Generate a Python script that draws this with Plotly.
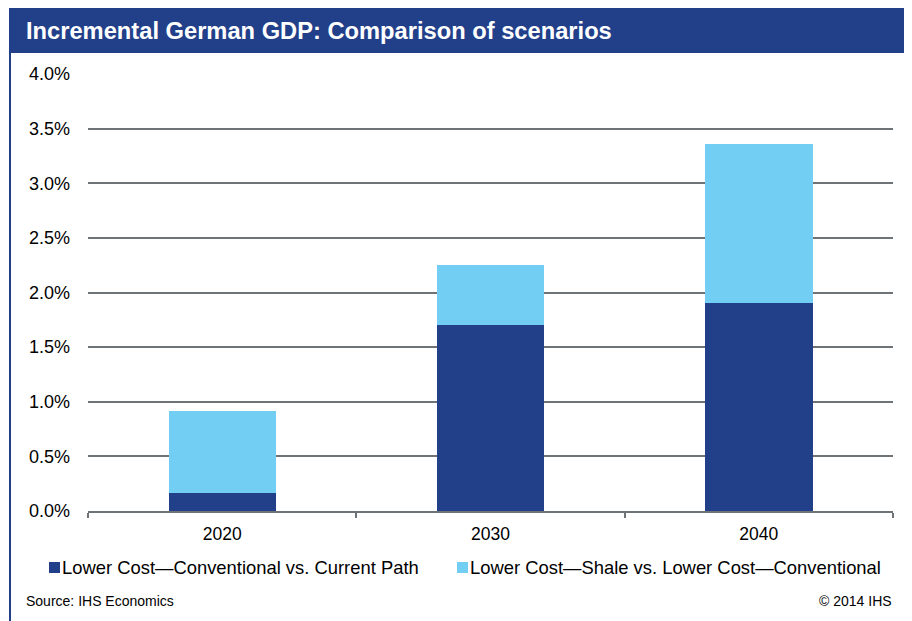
import plotly.graph_objects as go

years = ["2020", "2030", "2040"]
conventional = [0.165, 1.70, 1.90]          # Lower Cost—Conventional vs. Current Path (%)
shale = [0.75, 0.55, 1.46]                  # Lower Cost—Shale vs. Lower Cost—Conventional (%)
series_names = ["Lower Cost\u2014Conventional vs. Current Path",
                "Lower Cost\u2014Shale vs. Lower Cost\u2014Conventional"]
y_ticks = [0, 0.5, 1.0, 1.5, 2.0, 2.5, 3.0, 3.5, 4.0]
y_tick_text = [f"{v:.1f}%" for v in y_ticks]

DARK = "#22408A"
LIGHT = "#72CFF3"
GRID = "#6E7377"
FONT = "Liberation Sans, Arial, sans-serif"

OFF = 8                     # page body margin
W, H = 912 - OFF, 621 - OFF
L, R, T, B = 88, 893, 74, 511   # plot area in screen pixels


def px_x(p):
    return (p - L) / (R - L)


def px_y(p):
    return (B - p) / (B - T)


fig = go.Figure()
fig.add_trace(go.Bar(x=years, y=conventional, name=series_names[0],
                     marker=dict(color=DARK, line=dict(width=0))))
fig.add_trace(go.Bar(x=years, y=shale, name=series_names[1],
                     marker=dict(color=LIGHT, line=dict(width=0))))

fig.update_layout(
    width=W, height=H,
    margin=dict(l=L - OFF, r=(912 - R), t=T - OFF, b=(621 - B), autoexpand=False),
    barmode="stack", bargap=0.6,
    paper_bgcolor="white", plot_bgcolor="white",
    font=dict(family=FONT, size=17, color="black"),
    showlegend=False,
    xaxis=dict(type="category", showline=True, linecolor=GRID, linewidth=2,
               ticks="outside", tickson="boundaries", ticklen=5, tickwidth=2,
               tickcolor=GRID, showgrid=False, tickfont=dict(size=17.5),
               ticklabelstandoff=6),
    yaxis=dict(range=[0, 4], tickvals=y_ticks, ticktext=y_tick_text,
               showgrid=True, gridcolor=GRID, gridwidth=2, zeroline=False,
               showline=False, ticks="", ticklabelstandoff=17,
               tickfont=dict(size=18)),
)

shapes = [
    dict(type="rect", xref="paper", yref="paper", x0=px_x(9), x1=px_x(911),
         y0=px_y(53), y1=px_y(8), fillcolor=DARK, line=dict(width=0), layer="below"),
    dict(type="line", xref="paper", yref="paper", x0=px_x(10), x1=px_x(10),
         y0=px_y(53), y1=px_y(625), line=dict(color=DARK, width=2)),
    dict(type="line", xref="paper", yref="paper", x0=px_x(910), x1=px_x(910),
         y0=px_y(53), y1=px_y(625), line=dict(color=DARK, width=2)),
]

# legend (custom, matching the reference's tight swatch/text spacing)
legend_items = [(series_names[0], DARK, 49), (series_names[1], LIGHT, 457)]
for name, color, sx in legend_items:
    shapes.append(dict(type="rect", xref="paper", yref="paper",
                       x0=px_x(sx), x1=px_x(sx + 11), y0=px_y(573), y1=px_y(562),
                       fillcolor=color, line=dict(width=0)))
    fig.add_annotation(text=name, xref="paper", yref="paper",
                       x=px_x(sx + 11), y=px_y(567), xanchor="left", yanchor="middle",
                       showarrow=False, font=dict(family=FONT, size=18.4, color="black"))
fig.update_layout(shapes=shapes)

fig.add_annotation(text="<b>Incremental German GDP: Comparison of scenarios</b>",
                   xref="paper", yref="paper", x=px_x(24), y=px_y(31),
                   xanchor="left", yanchor="middle", showarrow=False,
                   font=dict(family=FONT, size=23.7, color="white"))
fig.add_annotation(text="Source: IHS Economics",
                   xref="paper", yref="paper", x=px_x(24), y=px_y(601),
                   xanchor="left", yanchor="middle", showarrow=False,
                   font=dict(family=FONT, size=14, color="black"))
fig.add_annotation(text="\u00a9 2014 IHS",
                   xref="paper", yref="paper", x=px_x(894), y=px_y(601),
                   xanchor="right", yanchor="middle", showarrow=False,
                   font=dict(family=FONT, size=14, color="black"))

fig.write_html("out.html")
